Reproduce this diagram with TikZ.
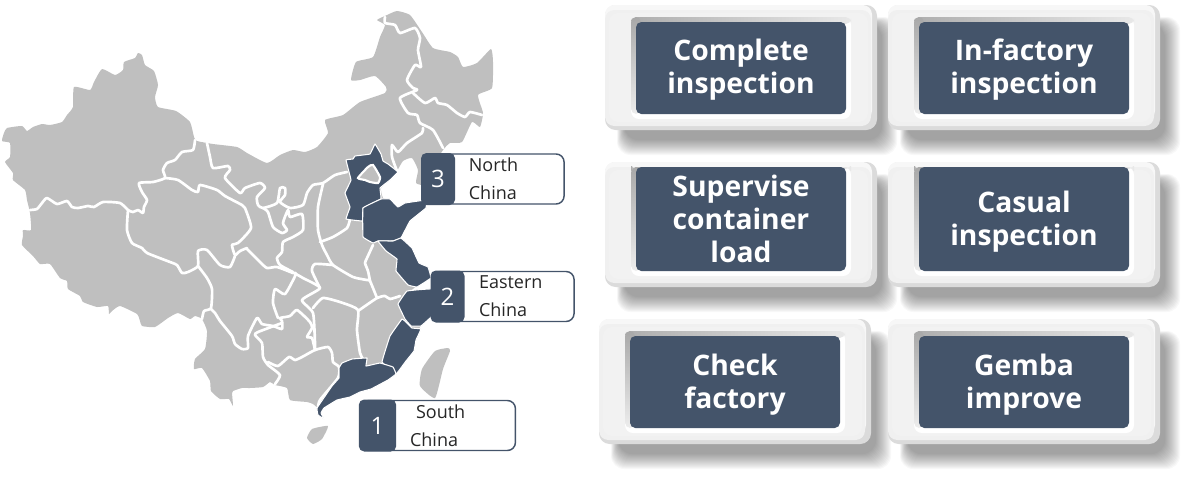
\documentclass[tikz,border=0pt]{standalone}
\usepackage{fontspec}
\setmainfont{Open Sans}
\usetikzlibrary{positioning}
\definecolor{navy}{HTML}{44546A}
\definecolor{mapgray}{HTML}{BFBFBF}
\tikzset{
  land/.style={fill=mapgray},
  border/.style={draw=white, line width=2pt, line cap=round, line join=round},
  region/.style={fill=navy, draw=white, line width=0.8pt, line join=round},
  numbox/.style={rectangle, fill=navy, rounded corners=4pt, text=white, font=\fontsize{18}{20}\selectfont, minimum width=25.5pt, minimum height=39pt, inner sep=0pt},
  callout/.style={rectangle, draw=navy, line width=1.1pt, fill=white, rounded corners=6pt, minimum height=37.5pt, inner sep=0pt},
  captext/.style={text=black!85, font=\fontsize{13.5}{21}\selectfont, align=left, inner sep=0pt},
  inspect/.style={rectangle, fill=navy, rounded corners=4pt, minimum width=157.5pt, inner sep=0pt},
  insptext/.style={text=white, font=\fontsize{21.2}{24.75}\selectfont\bfseries, align=center, inner sep=0pt},
}
% outer box: name, left, top, navy top offset, navy height, gap of the well, text drop, text
\newcommand{\inspbox}[8]{
  \foreach \k in {0,...,15}
    \fill[black, opacity=0.027, rounded corners=10pt] (#2+12+\k*0.5,#3+12+\k*0.5) rectangle (#2+292-\k,#3+150-\k);
  \fill[black!14, rounded corners=8pt] (#2,#3) rectangle (#2+272,#3+125);
  \fill[black!3, rounded corners=7pt] (#2,#3) rectangle (#2+267,#3+115);
  \fill[black!6, rounded corners=7pt] (#2,#3+5) rectangle (#2+266,#3+121);
  \fill[black!5, rounded corners=7pt] (#2+4,#3+8) rectangle (#2+263,#3+117);
  \fill[white, rounded corners=6pt] (#2+26,#3+#4-#6) rectangle (#2+246,#3+#4+#5+5);
  \shade[left color=black!32, right color=black!9, rounded corners=4pt] (#2+26,#3+#4-#6) rectangle (#2+246,#3+#4+2);
  \shade[top color=black!34, bottom color=black!7, rounded corners=4pt] (#2+26,#3+#4-#6) rectangle (#2+36,#3+#4+#5);
  \node (#1) [inspect, minimum height=#5*0.75pt] at (#2+136,#3+#4+#5/2) {};
  \node (#1txt) [insptext] at (#2+136,#3+#4+#5/2+#7) {#8};
}

\begin{document}
\begin{tikzpicture}[x=0.75pt, y=-0.75pt]
\useasboundingbox (0,0) rectangle (1191,476);

% mainland
\fill[land] plot[smooth cycle, tension=0.3] coordinates {(2,141) (4,133) (7,128) (22,126) (27,131) (33,127) (42,124) (50,125) (62,122) (67,115) (73,107) (74,87) (90,90) (94,82) (102,69) (115,75) (123,70) (124,62) (135,58) (138,53) (142,55) (145,65) (154,71) (158,85) (155,97) (158,107) (176,111) (190,122) (194,137) (197,141) (213,144) (237,147) (247,153) (267,163) (280,155) (293,150) (305,152) (317,147) (328,133) (325,120) (343,115) (360,102) (385,93) (386,87) (375,76) (360,80) (351,80) (356,62) (373,57) (380,37) (385,25) (377,20) (387,15) (397,11) (410,15) (422,32) (433,48) (450,52) (458,57) (463,67) (477,63) (491,49) (493,62) (492,88) (478,95) (483,113) (480,127) (472,122) (462,142) (450,143) (443,150) (432,168) (426,185) (416,183) (418,170) (412,158) (403,161) (397,171) (390,180) (381,188) (383,198) (390,200) (398,208) (405,205) (422,204) (405,218) (398,237) (410,248) (417,263) (427,268) (428,278) (417,286) (410,292) (430,292) (430,316) (420,327) (415,339) (413,351) (405,361) (395,373) (387,379) (370,388) (360,391) (350,396) (337,399) (323,408) (318,408) (313,404) (307,402) (290,400) (287,388) (275,385) (270,382) (263,387) (250,388) (242,388) (233,391) (232,393) (233,406) (229,399) (220,399) (211,391) (210,381) (202,368) (194,369) (195,359) (205,349) (207,331) (202,319) (195,316) (190,319) (178,313) (168,318) (155,327) (142,326) (140,321) (137,314) (120,306) (112,311) (109,314) (108,306) (97,307) (83,302) (80,296) (68,289) (67,281) (60,278) (50,264) (40,264) (33,256) (22,245) (23,236) (23,230) (31,230) (30,213) (27,200) (25,190) (13,180) (13,173) (5,162) (10,157) (10,143)};
% islands
\fill[land] plot[smooth cycle, tension=0.3] coordinates {(448,348) (450,351) (443,369) (435,398) (420,386) (422,369) (435,351)};
\fill[land] plot[smooth cycle, tension=0.3] coordinates {(328,426) (322,439) (313,444) (307,438) (312,429)};

% province borders, west
\draw[border] plot[smooth, tension=0.35] coordinates {(30,210) (37,209) (42,203) (47,198) (57,204) (67,201) (72,207) (78,208) (88,206) (94,207) (103,202) (120,203) (128,210) (133,212) (138,210) (143,213) (144,207) (147,200) (142,192) (139,183) (153,182) (165,178) (163,170) (167,163) (175,160) (182,152) (193,150) (195,140)};
\draw[border] plot[smooth, tension=0.35] coordinates {(165,178) (178,180) (192,190) (198,192) (200,185) (217,190) (225,196) (242,205) (245,208) (251,228) (238,243) (232,245) (235,255) (240,251) (247,248)};
\draw[border] plot[smooth, tension=0.35] coordinates {(128,210) (127,230) (132,243) (142,248) (147,253) (170,262) (177,265) (182,273) (188,272) (198,266) (198,251) (207,250) (220,265) (230,267) (235,256)};
\draw[border] plot[smooth, tension=0.35] coordinates {(198,266) (207,278) (212,289) (211,308) (204,311) (202,319)};
\draw[border] plot[smooth, tension=0.35] coordinates {(211,309) (215,313) (220,321) (232,336) (235,344) (242,349) (248,348) (248,336) (257,318) (262,324) (273,326) (282,329) (282,321) (280,318) (290,316) (297,310) (310,322) (312,328) (307,337) (312,338) (315,350)};
\draw[border] plot[smooth, tension=0.35] coordinates {(282,323) (258,332) (255,335) (262,343) (263,357) (268,365) (280,375) (275,384)};
\draw[border] plot[smooth, tension=0.35] coordinates {(268,362) (278,366) (289,357) (295,360) (302,357) (315,350) (328,347) (332,353) (333,362) (339,367) (338,378) (320,400) (318,408)};
\draw[border] plot[smooth, tension=0.35] coordinates {(247,249) (260,262) (267,268) (277,267) (293,273) (296,274) (285,294) (275,289) (273,303) (278,318)};
\draw[border] plot[smooth, tension=0.35] coordinates {(296,274) (303,278) (320,288) (302,300) (313,313) (315,343) (315,350)};
\draw[border] plot[smooth, tension=0.35] coordinates {(313,308) (323,298) (343,303) (358,310) (357,330) (360,353) (363,359)};
\draw[border] plot[smooth, tension=0.35] coordinates {(358,311) (377,298) (385,296) (390,299) (400,296)};

% province borders, north
\draw[border] plot[smooth, tension=0.35] coordinates {(207,143) (210,157) (213,168) (228,166) (230,170) (225,178) (240,193) (245,188) (260,183) (265,188) (257,197) (258,205) (263,208) (277,203) (280,188) (285,188) (285,195) (280,202) (290,208) (303,205) (307,193) (313,185) (323,183) (335,175) (347,172)};
\draw[border] plot[smooth, tension=0.35] coordinates {(263,208) (268,212) (273,227) (282,233) (287,230) (283,223) (288,210) (290,217) (302,214) (303,230) (293,237) (283,242) (282,252) (277,258) (280,265) (293,272)};
\draw[border] plot[smooth, tension=0.35] coordinates {(323,184) (318,207) (318,230) (322,245) (327,255) (333,265) (353,277) (367,280) (370,281) (377,298)};
\draw[border] plot[smooth, tension=0.35] coordinates {(320,242) (333,237) (347,228) (350,219)};
\draw[border] plot[smooth, tension=0.35] coordinates {(333,265) (315,264) (312,271) (320,288)};
\draw[border] plot[smooth, tension=0.35] coordinates {(373,245) (367,258) (365,263) (368,271) (370,281)};
\draw[border] plot[smooth, tension=0.35] coordinates {(385,17) (385,23) (395,25) (400,33) (415,28) (420,38) (418,50) (421,67) (415,65) (407,80) (413,88) (417,90) (400,98) (408,113) (417,115) (420,123) (433,130) (443,148)};
\draw[border] plot[smooth, tension=0.35] coordinates {(413,93) (425,103) (435,98) (438,103) (447,105) (457,113) (465,117) (470,112) (482,115)};
\draw[border] plot[smooth, tension=0.35] coordinates {(423,128) (422,133) (407,143) (398,152) (392,145) (392,157) (397,171)};

% dark regions
\draw[region] plot[smooth cycle, tension=0.1] coordinates {(346,160) (353,159) (355,156) (370,154) (375,144) (381,154) (383,161) (388,164) (398,172) (390,180) (380,188) (381,199) (363,208) (363,221) (346,219) (350,207) (345,193) (351,180)};
\fill[land, draw=white, line width=1.6pt] plot[smooth cycle, tension=0.3] coordinates {(358,178) (368,167) (373,165) (380,177) (378,183) (370,182) (365,180)};
\draw[region] plot[smooth cycle, tension=0.1] coordinates {(381,199) (390,199) (398,207) (405,203) (426,200) (426,208) (410,221) (401,238) (393,241) (378,241) (373,243) (363,237) (363,208)};
\draw[region] plot[smooth cycle, tension=0.1] coordinates {(378,241) (393,241) (401,238) (412,248) (419,263) (428,267) (431,278) (417,287) (408,285) (396,271) (397,259) (386,251)};
\draw[region] plot[smooth cycle, tension=0.1] coordinates {(407,291) (433,289) (434,314) (421,326) (411,326) (405,319) (398,304)};
\draw[region] plot[smooth cycle, tension=0.1] coordinates {(402,319) (407,323) (412,328) (421,329) (416,340) (414,351) (406,361) (396,374) (382,362) (390,336)};
\draw[region] plot[smooth cycle, tension=0.1] coordinates {(342,363) (352,359) (367,358) (366,366) (380,363) (393,367) (396,374) (388,380) (371,389) (360,392) (350,397) (337,400) (324,408) (321,413) (324,419) (318,415) (317,408) (332,386) (339,378) (339,368)};

% callouts
\node (body3) [callout, minimum width=106pt, anchor=west] at (422,179) {};
\node (num3) [numbox] at (438,179) {3};
\node (text3) [captext, right=10pt of num3] {North\\China};
\node (body2) [callout, minimum width=106pt, anchor=west] at (432,296.5) {};
\node (num2) [numbox] at (447.5,296.5) {2};
\node (text2) [captext, right=10.5pt of num2] {Eastern\\China};
\node (body1) [callout, minimum width=116pt, anchor=west] at (360,425.5) {};
\node (num1) [numbox, minimum width=28pt] at (377.5,425.5) {1};
\node (text1) [captext, right=10pt of num1] {\hspace*{4.5pt}South\\China};

% inspection boxes
\inspbox{complete}{605}{5}{17}{92}{5}{2}{Complete\\inspection}
\inspbox{infactory}{888}{5}{17}{92}{5}{2}{In-factory\\inspection}
\inspbox{supervise}{605}{162}{5}{104}{0}{0}{Supervise\\container\\load}
\inspbox{casual}{888}{162}{5}{104}{0}{3}{Casual\\inspection}
\inspbox{check}{599}{319}{17}{92}{5}{2.5}{Check\\factory}
\inspbox{gemba}{888}{319}{17}{92}{5}{2.5}{Gemba\\improve}
\end{tikzpicture}
\end{document}
